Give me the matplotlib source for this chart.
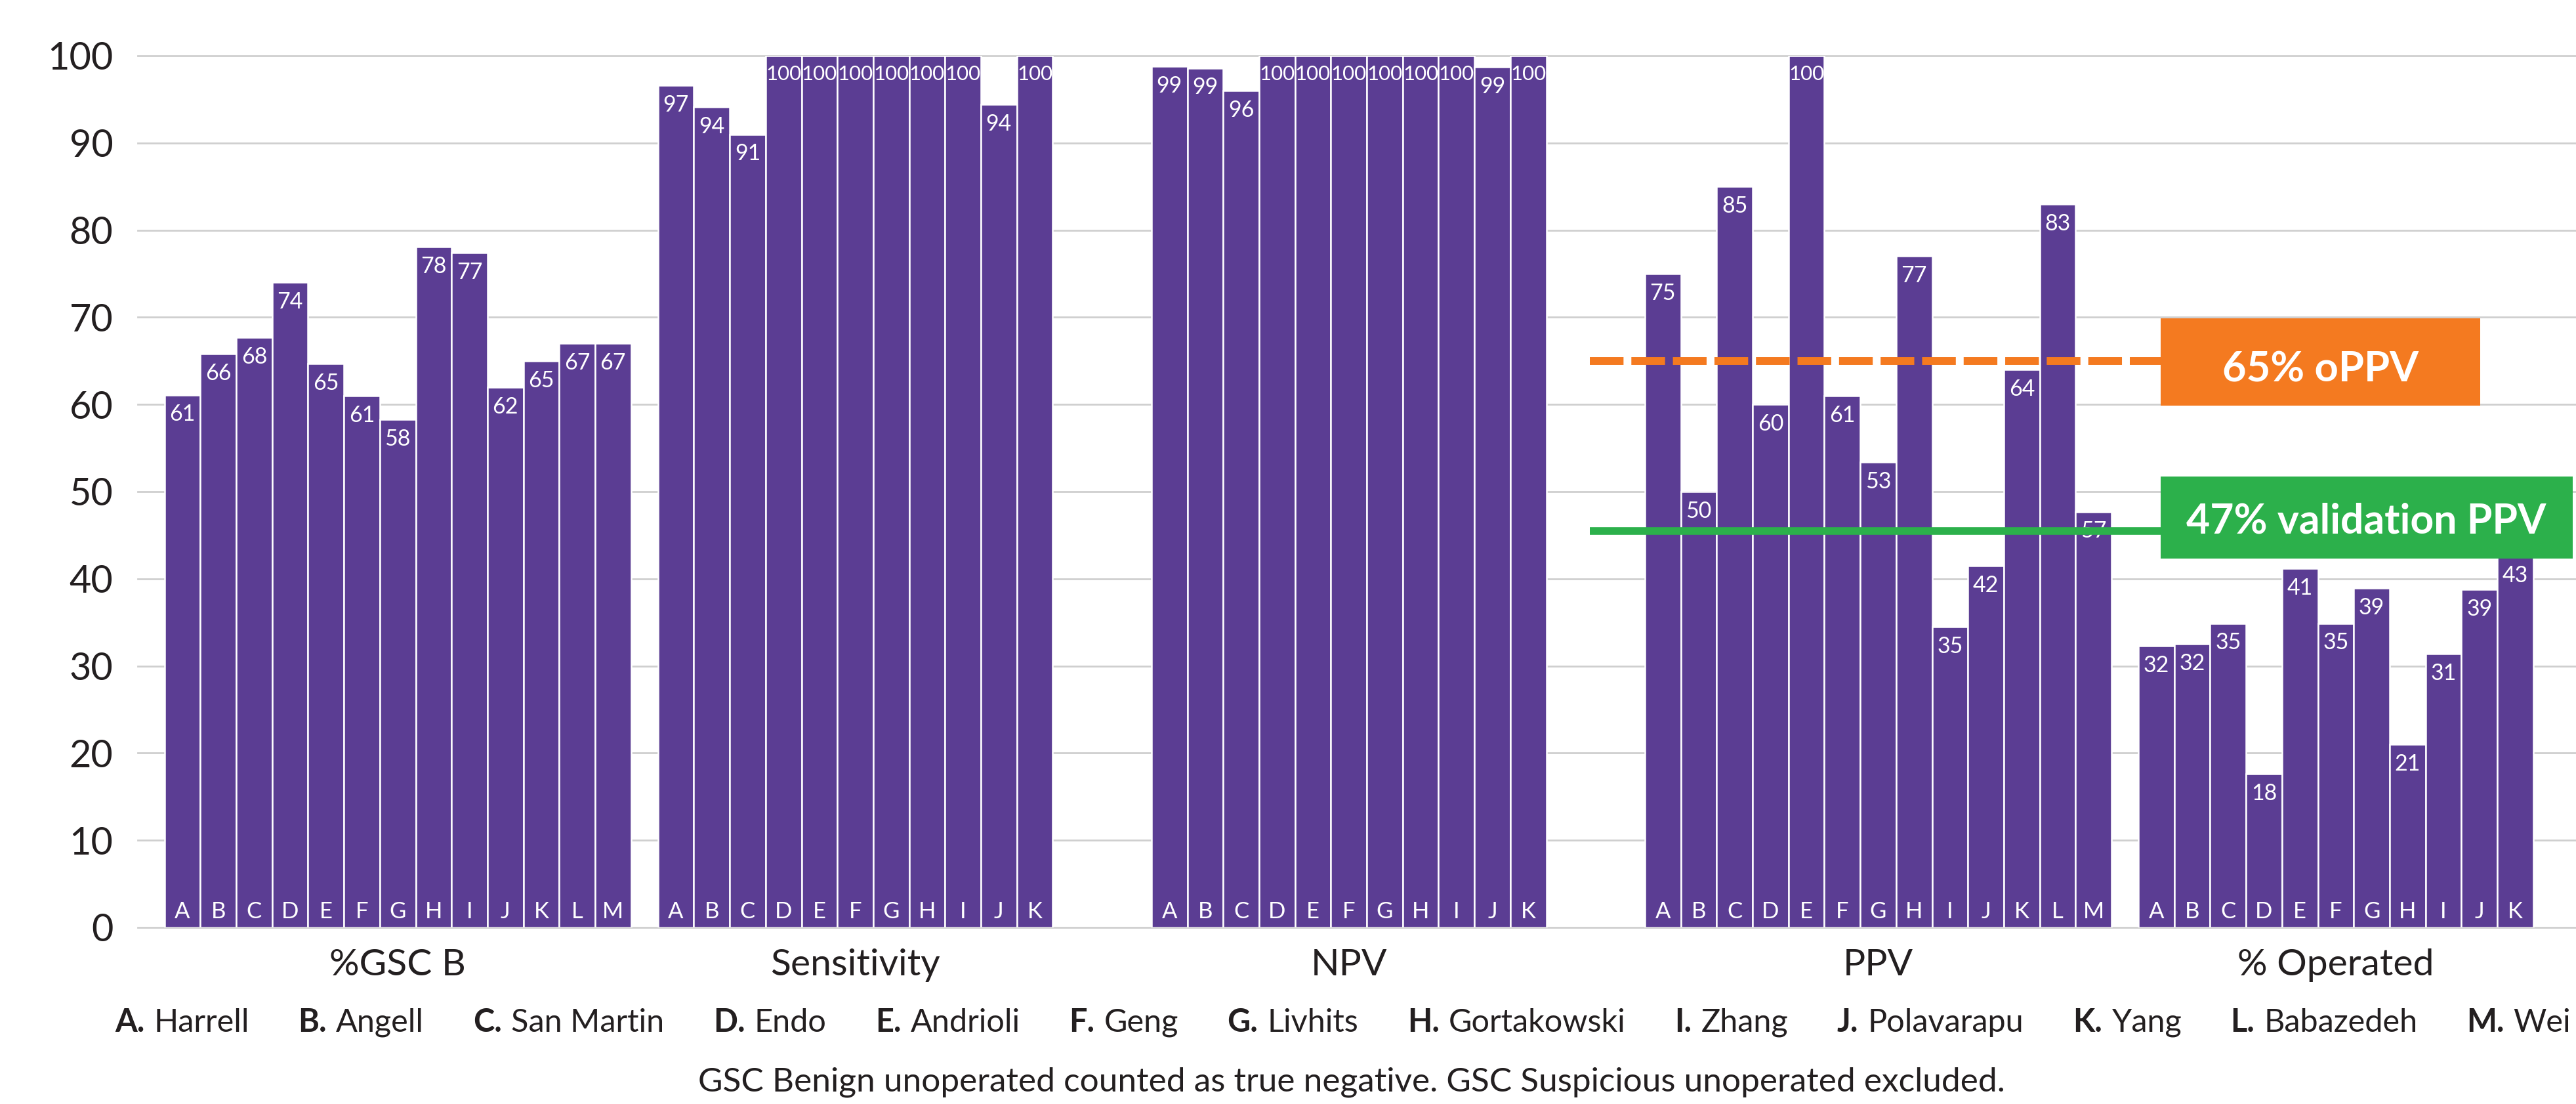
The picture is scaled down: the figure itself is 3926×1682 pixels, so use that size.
import matplotlib
matplotlib.use("Agg")
import matplotlib.pyplot as plt
from matplotlib.patches import Rectangle

plt.rcParams['font.family'] = ['Lato', 'DejaVu Sans']

# ---------------- data ----------------
study_letters = list("ABCDEFGHIJKLM")
study_names = ["Harrell", "Angell", "San Martin", "Endo", "Andrioli", "Geng", "Livhits",
               "Gortakowski", "Zhang", "Polavarapu", "Yang", "Babazedeh", "Wei"]
categories = ["%GSC B", "Sensitivity", "NPV", "PPV", "% Operated"]

gsc_b_values = [61.1, 65.8, 67.7, 74.0, 64.7, 61.0, 58.3, 78.1, 77.4, 62.0, 65.0, 67.0, 67.0]
gsc_b_labels = ["61", "66", "68", "74", "65", "61", "58", "78", "77", "62", "65", "67", "67"]

sensitivity_values = [96.6, 94.1, 91.0, 100, 100, 100, 100, 100, 100, 94.4, 100]
sensitivity_labels = ["97", "94", "91", "100", "100", "100", "100", "100", "100", "94", "100"]

npv_values = [98.8, 98.6, 96.0, 100, 100, 100, 100, 100, 100, 98.7, 100]
npv_labels = ["99", "99", "96", "100", "100", "100", "100", "100", "100", "99", "100"]

ppv_values = [75.0, 50.0, 85.0, 60.0, 100, 61.0, 53.4, 77.0, 34.5, 41.5, 64.0, 83.0, 47.7]
ppv_labels = ["75", "50", "85", "60", "100", "61", "53", "77", "35", "42", "64", "83", "57"]

operated_values = [32.3, 32.5, 34.9, 17.6, 41.2, 34.9, 38.9, 21.0, 31.4, 38.8, 42.6]
operated_labels = ["32", "32", "35", "18", "41", "35", "39", "21", "31", "39", "43"]

oppv_line_value = 65
oppv_text = "65% oPPV"
validation_line_value = 45.5
validation_text = "47% validation PPV"
footnote = "GSC Benign unoperated counted as true negative. GSC Suspicious unoperated excluded."

yticks = list(range(0, 101, 10))

# ---------------- style ----------------
PURPLE = "#5B3D93"
ORANGE = "#F47A20"
GREEN = "#2CB04B"
TEXT = "#231F20"
GRID = "#CFCFCF"

W, H, DPI = 3926, 1682, 100
fig = plt.figure(figsize=(W / DPI, H / DPI), dpi=DPI)
fig.patch.set_facecolor("white")

ax_left_px, ax_bottom_px, ax_top_px = 210, 1413, 85
ax = fig.add_axes([ax_left_px / W, 1 - ax_bottom_px / H, 1 - ax_left_px / W,
                   (ax_bottom_px - ax_top_px) / H])

unit_px = 54.7
x0_px = 250.6
ax.set_xlim(-(x0_px - ax_left_px) / unit_px, (W - x0_px) / unit_px)
ax.set_ylim(0, 100)

groups = [
    (gsc_b_values, gsc_b_labels),
    (sensitivity_values, sensitivity_labels),
    (npv_values, npv_labels),
    (ppv_values, ppv_labels),
    (operated_values, operated_labels),
]
slots_per_group = 13
group_gap = 0.75

for gi, ((vals, labs), cat) in enumerate(zip(groups, categories)):
    start = gi * (slots_per_group + group_gap)
    xs = [start + i for i in range(len(vals))]
    ax.bar(xs, vals, width=1.0, align='edge', color=PURPLE, edgecolor='white',
           linewidth=1.8, zorder=2)
    for x, v, lab, letter in zip(xs, vals, labs, study_letters):
        fs = 24.5 if len(lab) <= 2 else 22.5
        ax.annotate(lab, xy=(x + 0.5, v), xytext=(0, -10), textcoords='offset points',
                    ha='center', va='top', color='white', fontsize=fs, zorder=3)
        ax.annotate(letter, xy=(x + 0.5, 0), xytext=(0, 10), textcoords='offset points',
                    ha='center', va='baseline', color='white', fontsize=25, zorder=3)
    center = start + len(vals) / 2
    ax.annotate(cat, xy=(center, 0), xytext=(0, -52.5), textcoords='offset points',
                ha='center', va='baseline', color=TEXT, fontsize=41, annotation_clip=False)

# reference lines
line_x0 = (2423 - x0_px) / unit_px
box_x0 = (3293 - x0_px) / unit_px
ax.plot([line_x0, box_x0], [oppv_line_value] * 2, color=ORANGE, lw=8.6,
        linestyle=(0, (4.3, 1.0)), dash_capstyle='butt', zorder=4)
ax.plot([line_x0, box_x0], [validation_line_value] * 2, color=GREEN, lw=8.4,
        solid_capstyle='butt', zorder=4)

# label boxes
orange_box_x1 = (3780 - x0_px) / unit_px
green_box_x1 = (3921 - x0_px) / unit_px
ax.add_patch(Rectangle((box_x0, 59.9), orange_box_x1 - box_x0, 10.0, facecolor=ORANGE,
                       edgecolor='none', zorder=5, clip_on=False))
ax.add_patch(Rectangle((box_x0, 42.3), green_box_x1 - box_x0, 9.4, facecolor=GREEN,
                       edgecolor='none', zorder=5, clip_on=False))
ax.text((3537 - x0_px) / unit_px, 62.65, oppv_text, color='white', fontsize=45.5,
        fontweight='bold', ha='center', va='baseline', zorder=6, clip_on=False)
ax.text((3606 - x0_px) / unit_px, 45.2, validation_text, color='white', fontsize=45,
        fontweight='bold', ha='center', va='baseline', zorder=6, clip_on=False)

# axes styling
ax.set_yticks(yticks)
ax.set_yticklabels([str(t) for t in yticks])
ax.set_xticks([])
ax.tick_params(axis='y', length=0, pad=27, labelsize=41.5, labelcolor=TEXT)
for s in ax.spines.values():
    s.set_visible(False)
ax.grid(axis='y', color=GRID, linewidth=2.0)
ax.set_axisbelow(True)
for gl in ax.get_ygridlines():
    gl.set_clip_on(False)

# study legend row
fig.canvas.draw()
renderer = fig.canvas.get_renderer()
legend_y = 1 - 1572 / H
leg_fs = 35
inner_gap_px = 14
pairs = []
total_w = 0
for letter, name in zip(study_letters, study_names):
    t1 = fig.text(0, legend_y, letter + ".", fontsize=leg_fs, fontweight='bold',
                  color=TEXT, ha='left', va='baseline')
    t2 = fig.text(0, legend_y, name, fontsize=leg_fs, color=TEXT, ha='left', va='baseline')
    w1 = t1.get_window_extent(renderer).width
    w2 = t2.get_window_extent(renderer).width
    pairs.append((t1, t2, w1, w2))
    total_w += w1 + inner_gap_px + w2
leg_x_start, leg_x_end = 175, 3918
gap = (leg_x_end - leg_x_start - total_w) / (len(pairs) - 1)
x = leg_x_start
for t1, t2, w1, w2 in pairs:
    t1.set_x(x / W)
    t2.set_x((x + w1 + inner_gap_px) / W)
    x += w1 + inner_gap_px + w2 + gap

fig.text(2060 / W, 1 - 1662 / H, footnote, fontsize=37, color=TEXT, ha='center',
         va='baseline')

fig.savefig("out.png", dpi=DPI, facecolor='white')
